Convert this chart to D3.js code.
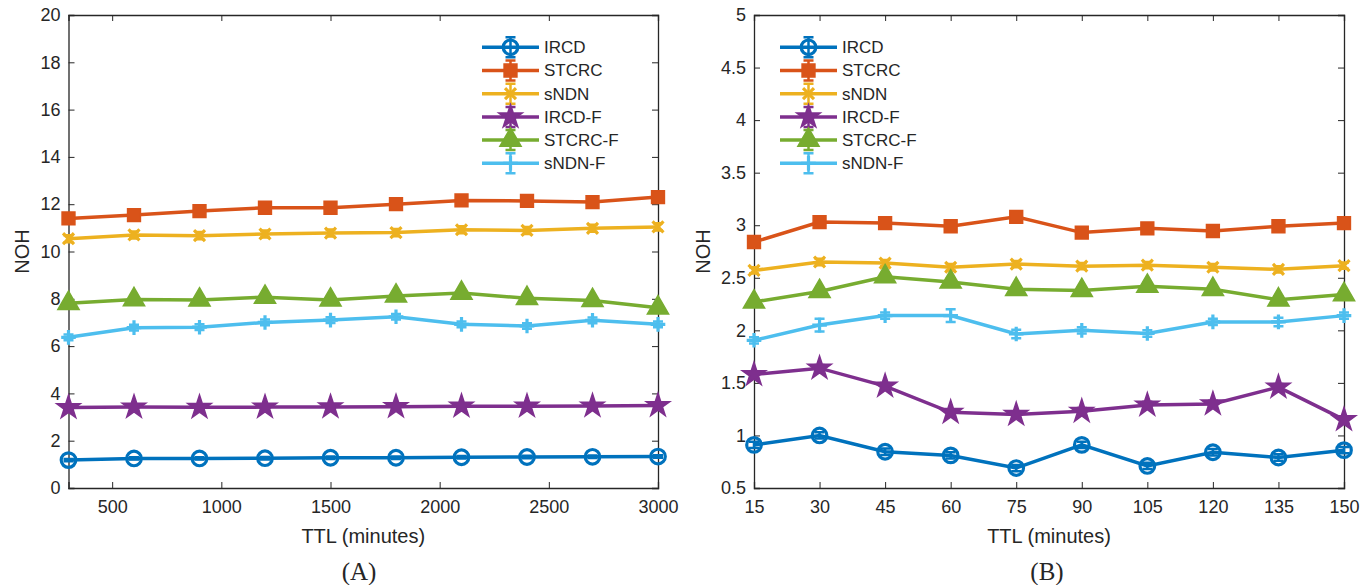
<!DOCTYPE html>
<html><head><meta charset="utf-8">
<script src="https://cdn.jsdelivr.net/npm/d3@7"></script>
<style>
body{margin:0;background:#fff;}
text{font-family:"Liberation Sans",Arial,sans-serif;fill:#262626;}
</style></head>
<body><svg id="c" width="1362" height="585"></svg>
<script>
// ---------- DATA ----------
const seriesNames = ["IRCD","STCRC","sNDN","IRCD-F","STCRC-F","sNDN-F"];
const seriesColors = ["#0072BD","#D95319","#EDB120","#7E2F8E","#77AC30","#4DBEEE"];
const seriesMarkers = ["circle","square","times","star","triangle","plus"];

// Panel A: TTL 300..3000 minutes
const ttlA = [300,600,900,1200,1500,1800,2100,2400,2700,3000];
const ticksA_x = [500,1000,1500,2000,2500,3000];
const ticksA_y = [0,2,4,6,8,10,12,14,16,18,20];
const A_IRCD   = [1.18,1.25,1.25,1.26,1.28,1.28,1.30,1.31,1.32,1.33];
const A_STCRC  = [11.40,11.54,11.71,11.85,11.85,12.00,12.16,12.14,12.09,12.30];
const A_sNDN   = [10.54,10.70,10.67,10.74,10.78,10.80,10.92,10.89,10.98,11.04];
const A_IRCDF  = [3.40,3.42,3.41,3.42,3.43,3.44,3.46,3.46,3.47,3.49];
const A_STCRCF = [7.81,7.97,7.95,8.07,7.95,8.12,8.24,8.02,7.93,7.62];
const A_sNDNF  = [6.37,6.78,6.80,7.00,7.10,7.24,6.92,6.85,7.09,6.92];
const A_err = [0.05,0.12,0.15,0.08,0.10,0.12];

// Panel B: TTL 15..150 minutes
const ttlB = [15,30,45,60,75,90,105,120,135,150];
const ticksB_y = [0.5,1,1.5,2,2.5,3,3.5,4,4.5,5];
const B_IRCD   = [0.91,1.00,0.845,0.81,0.69,0.91,0.71,0.84,0.79,0.86];
const B_STCRC  = [2.84,3.03,3.02,2.99,3.08,2.93,2.97,2.945,2.99,3.02];
const B_sNDN   = [2.57,2.65,2.64,2.60,2.63,2.61,2.62,2.60,2.58,2.615];
const B_IRCDF  = [1.58,1.64,1.47,1.22,1.20,1.23,1.29,1.30,1.46,1.15];
const B_STCRCF = [2.27,2.37,2.51,2.46,2.39,2.38,2.42,2.39,2.29,2.34];
const B_sNDNF  = [1.905,2.05,2.14,2.14,1.965,2.00,1.97,2.08,2.08,2.14];
const B_err = [0.03,0.03,0.03,0.03,0.03,0.03];
const B_sNDNF_err = [0.03,0.06,0.03,0.06,0.04,0.03,0.03,0.03,0.04,0.03];

// ---------- DRAW ----------
const svg = d3.select("#c");
const AX = "#262626";

function markerPath(type, r){
  const p = d3.path();
  if(type==="circle"){ p.arc(0,0,r,0,2*Math.PI); return p.toString(); }
  if(type==="plus"){ p.moveTo(-r,0);p.lineTo(r,0);p.moveTo(0,-r);p.lineTo(0,r); return p.toString(); }
  if(type==="times"){ const q=r*0.75; p.moveTo(-q,-q);p.lineTo(q,q);p.moveTo(-q,q);p.lineTo(q,-q); return p.toString(); }
  if(type==="square") return d3.symbol(d3.symbolSquare, 165)();
  if(type==="triangle") return d3.symbol(d3.symbolTriangle, 195)();
  if(type==="star") return d3.symbol(d3.symbolStar, 170)();
}
const filled = {circle:false,plus:false,times:false,square:true,triangle:true,star:true};

function drawPanel(cfg){
  const {x0,x1,y0,y1,xDomain,yDomain,xTicks,yTicks,xs,series,errs,legendX,caption,captionX,ylabelX} = cfg;
  const x = d3.scaleLinear().domain(xDomain).range([x0,x1]);
  const y = d3.scaleLinear().domain(yDomain).range([y1,y0]);
  const g = svg.append("g");

  const fmt = d => String(d);
  const bottom = g.append("g").attr("transform",`translate(0,${y1})`)
    .call(d3.axisBottom(x).tickValues(xTicks).tickSize(-6).tickPadding(12).tickFormat(fmt));
  const top = g.append("g").attr("transform",`translate(0,${y0})`)
    .call(d3.axisTop(x).tickValues(xTicks).tickSize(-6).tickFormat(""));
  const left = g.append("g").attr("transform",`translate(${x0},0)`)
    .call(d3.axisLeft(y).tickValues(yTicks).tickSize(-6).tickPadding(8).tickFormat(fmt));
  const right = g.append("g").attr("transform",`translate(${x1},0)`)
    .call(d3.axisRight(y).tickValues(yTicks).tickSize(-6).tickFormat(""));
  [bottom,top,left,right].forEach(a=>{
    a.select(".domain").attr("stroke",AX).attr("stroke-width",1.3);
    a.selectAll(".tick line").attr("stroke",AX).attr("stroke-width",1);
    a.selectAll("text").attr("font-size",18).attr("fill",AX)
      .style("font-family","'Liberation Sans',Arial,sans-serif");
  });
  bottom.selectAll("text").attr("dy","0.71em");

  g.append("text").attr("x",(x0+x1)/2).attr("y",543).attr("text-anchor","middle")
    .attr("font-size",20).text("TTL (minutes)");
  g.append("text").attr("transform",`translate(${ylabelX},${(y0+y1)/2}) rotate(-90)`)
    .attr("text-anchor","middle").attr("dy","0.35em").attr("font-size",20).text("NOH");
  g.append("text").attr("x",captionX).attr("y",580).attr("text-anchor","middle")
    .style("font-family","'Liberation Serif','Times New Roman',serif")
    .attr("font-size",25).attr("fill","#000").text(caption);

  const line = d3.line().x((d,i)=>x(xs[i])).y(d=>y(d));
  series.forEach((vals,si)=>{
    const col = seriesColors[si];
    const sg = g.append("g");
    sg.append("path").attr("d",line(vals)).attr("fill","none").attr("stroke",col).attr("stroke-width",3.5);
    vals.forEach((v,i)=>{
      const e = Array.isArray(errs[si]) ? errs[si][i] : errs[si];
      const cx = x(xs[i]), ya = y(v+e), yb = y(v-e);
      sg.append("path").attr("d",`M${cx},${ya}L${cx},${yb}M${cx-5},${ya}L${cx+5},${ya}M${cx-5},${yb}L${cx+5},${yb}`)
        .attr("stroke",col).attr("stroke-width",2.5).attr("fill","none");
      const t = seriesMarkers[si];
      sg.append("path").attr("d",markerPath(t,7.3)).attr("transform",`translate(${cx},${y(v)})`)
        .attr("fill",filled[t]?col:"none").attr("stroke",col).attr("stroke-width",filled[t]?1.5:3.2);
    });
  });

  seriesNames.forEach((name,si)=>{
    const ly = 47.3 + si*23.2, col = seriesColors[si], t = seriesMarkers[si];
    const lg = g.append("g");
    lg.append("line").attr("x1",legendX).attr("x2",legendX+57).attr("y1",ly).attr("y2",ly)
      .attr("stroke",col).attr("stroke-width",3.5);
    const cx = legendX+28.5;
    lg.append("path").attr("d",`M${cx},${ly-10}L${cx},${ly+10}M${cx-5},${ly-10}L${cx+5},${ly-10}M${cx-5},${ly+10}L${cx+5},${ly+10}`)
      .attr("stroke",col).attr("stroke-width",2.5);
    lg.append("path").attr("d",markerPath(t,7.3)).attr("transform",`translate(${cx},${ly})`)
      .attr("fill",filled[t]?col:"none").attr("stroke",col).attr("stroke-width",filled[t]?1.5:3.2);
    lg.append("text").attr("x",legendX+62).attr("y",ly).attr("dy","0.35em")
      .attr("font-size",17).attr("fill","#000").text(name);
  });
}

drawPanel({x0:68.5,x1:658,y0:15,y1:488,xDomain:[300,3000],yDomain:[0,20],
  xTicks:ticksA_x,yTicks:ticksA_y,xs:ttlA,
  series:[A_IRCD,A_STCRC,A_sNDN,A_IRCDF,A_STCRCF,A_sNDNF],errs:A_err,
  legendX:482,caption:"(A)",captionX:359,ylabelX:22});
drawPanel({x0:754,x1:1344,y0:15,y1:488,xDomain:[15,150],yDomain:[0.5,5],
  xTicks:ttlB,yTicks:ticksB_y,xs:ttlB,
  series:[B_IRCD,B_STCRC,B_sNDN,B_IRCDF,B_STCRCF,B_sNDNF],
  errs:[B_err[0],B_err[1],B_err[2],B_err[3],B_err[4],B_sNDNF_err],
  legendX:780,caption:"(B)",captionX:1047,ylabelX:703});
</script></body></html>
